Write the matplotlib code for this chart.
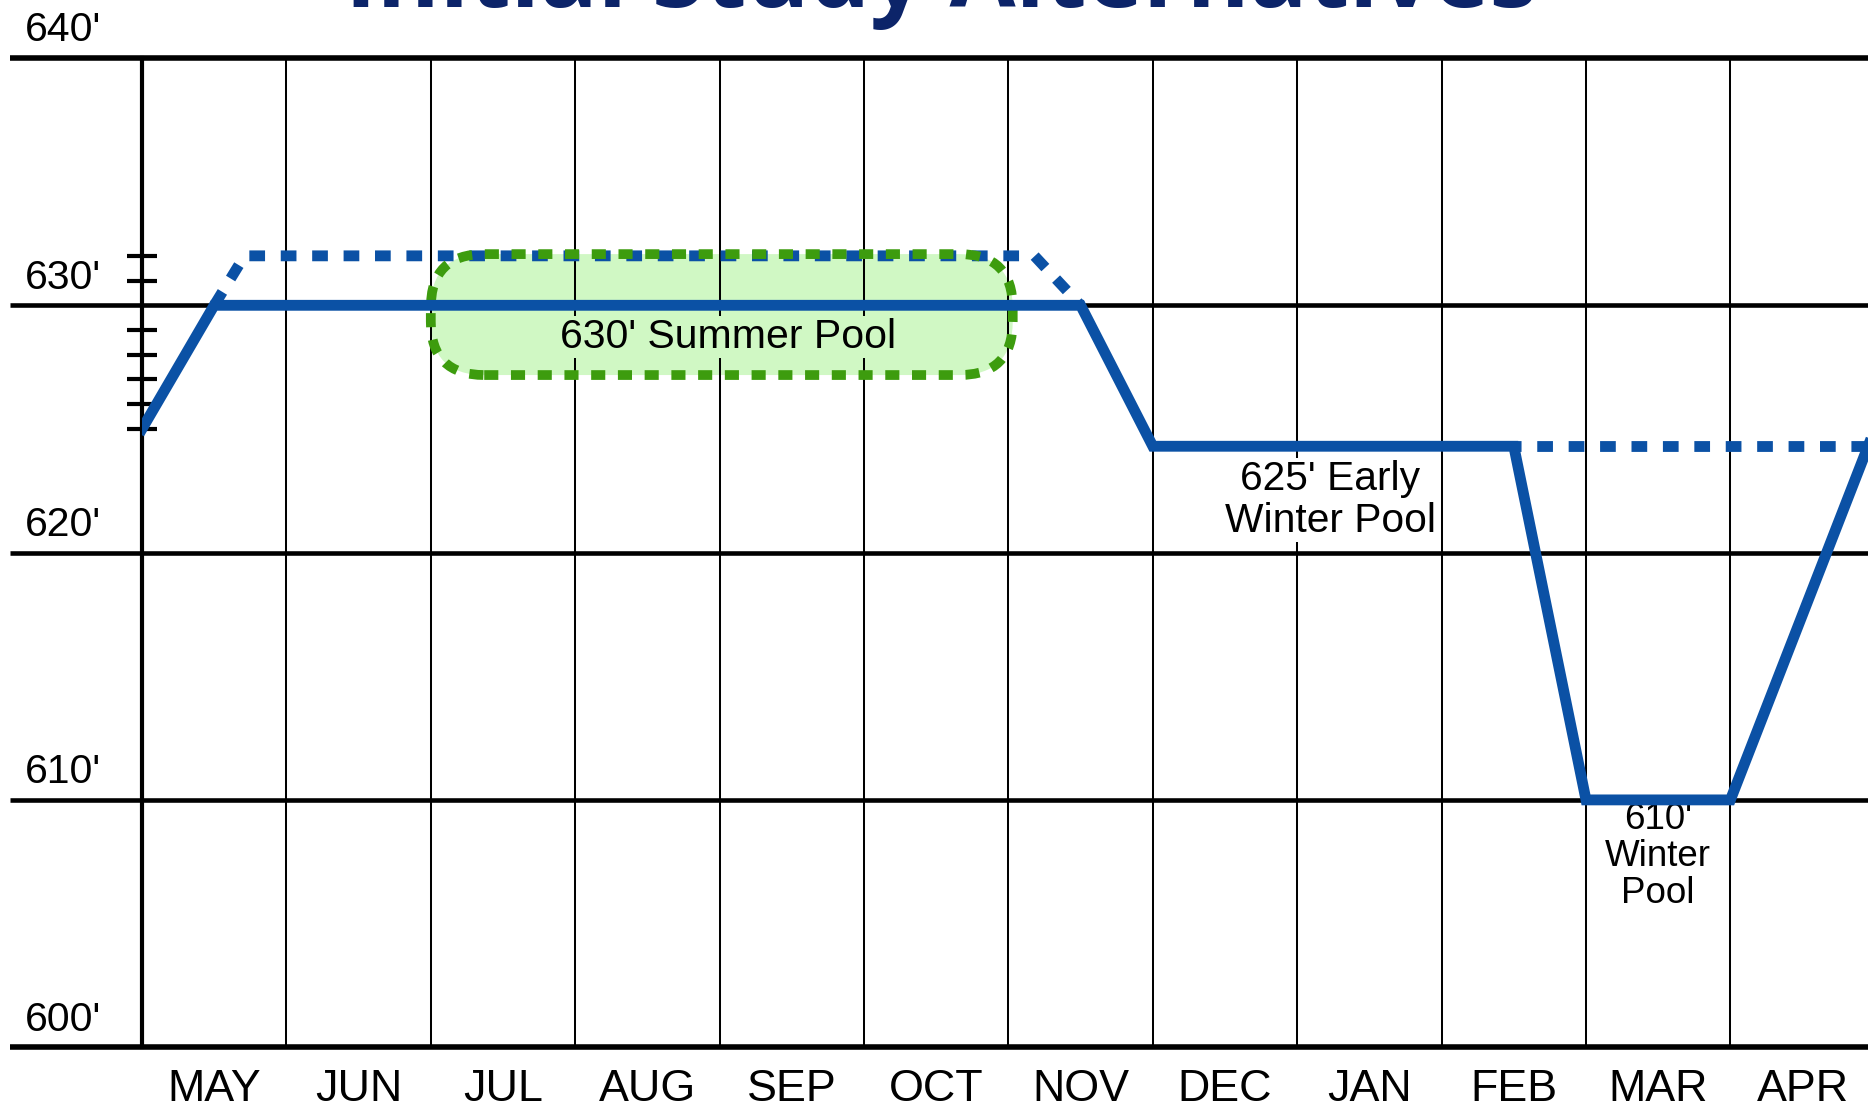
import matplotlib
matplotlib.use("Agg")
import matplotlib.pyplot as plt
from matplotlib.patches import FancyBboxPatch

# ---------------- data ----------------
months = ['MAY', 'JUN', 'JUL', 'AUG', 'SEP', 'OCT', 'NOV', 'DEC', 'JAN', 'FEB', 'MAR', 'APR']
ylevels = [600, 610, 620, 630, 640]
ylabels = ["600'", "610'", "620'", "630'", "640'"]
minor_ticks = [625, 626, 627, 628, 629, 631, 632]

# solid operating curve (month position, elevation)
solid_x = [0.0, 0.5, 6.5, 7.0, 9.5, 10.0, 11.0, 12.0]
solid_y = [625, 630, 630, 624.3, 624.3, 610, 610, 625]

# dotted alternative: higher summer pool
summer_alt_x = [0.5, 0.71, 6.18, 6.5]
summer_alt_y = [630, 632, 632, 630]

# dotted alternative: stay at early winter pool
winter_alt_x = [9.5, 12.0]
winter_alt_y = [624.3, 624.3]

# summer pool band (month start/end, elevation low/high)
band_x = [2.0, 6.03]
band_y = [627.18, 632.07]

BLUE = '#0b51a5'
GREEN_EDGE = '#3d9c0e'
GREEN_FILL = '#d0f8c4'
NAVY = '#0c2469'

W, H = 1868, 1107
fig = plt.figure(figsize=(W / 100, H / 100), dpi=100)
left_px, right_px = 142, W
top_px, bottom_px = 58, 1047.2
ax = fig.add_axes([left_px / W, 1 - bottom_px / H, (right_px - left_px) / W, (bottom_px - top_px) / H])
col_px = 144.4
xmax = (right_px - left_px) / col_px
ax.set_xlim(0, xmax)
ax.set_ylim(600, 640)

for s in ['top', 'right', 'bottom']:
    ax.spines[s].set_visible(False)
ax.spines['left'].set_linewidth(3.0)
ax.spines['left'].set_zorder(4)
ax.set_xticks([])
ax.set_yticks(minor_ticks)
ax.set_yticklabels([])
ax.tick_params(axis='y', direction='inout', length=21, width=3.0, color='black')

# vertical month lines
ax.vlines(range(1, 13), 600, 640, colors='black', lw=1.45, zorder=2)

# horizontal level lines (extend left of axis)
x_left = -(left_px - 10) / col_px
for lv in ylevels:
    lw = 4.0 if lv in (600, 640) else 3.3
    ax.plot([x_left, xmax], [lv, lv], color='black', lw=lw, clip_on=False, zorder=2,
            solid_capstyle='butt')

# level labels
for lv, lab in zip(ylevels, ylabels):
    ax.annotate(lab, xy=(-(left_px - 25) / col_px, lv), xytext=(0, 12), textcoords='offset points',
                ha='left', va='baseline', fontsize=29.5, family='Liberation Sans',
                annotation_clip=False)

# month labels
for i, m in enumerate(months):
    ax.annotate(m, xy=(i + 0.5, 600), xytext=(0, -38.8), textcoords='offset points',
                ha='center', va='baseline', fontsize=32.3, family='Liberation Sans',
                annotation_clip=False)

# summer pool band (rounded, dashed)
ax_w = (right_px - left_px)
ax_h = (bottom_px - top_px)
aspect = (ax_w / xmax) / (ax_h / 40.0)
r = 0.37
box_kw = dict(boxstyle=f"round,pad=0,rounding_size={r}", mutation_aspect=aspect)
fillp = FancyBboxPatch((band_x[0], band_y[0]), band_x[1] - band_x[0], band_y[1] - band_y[0],
                       facecolor=GREEN_FILL, edgecolor='none', zorder=1, **box_kw)
ax.add_patch(fillp)
edgep = FancyBboxPatch((band_x[0], band_y[0]), band_x[1] - band_x[0], band_y[1] - band_y[0],
                       facecolor='none', edgecolor=GREEN_EDGE, lw=7.0, linestyle=(0, (1.45, 1.3)),
                       zorder=5, **box_kw)
ax.add_patch(edgep)

# alternative dotted lines
ax.plot(summer_alt_x, summer_alt_y, color=BLUE, lw=7.8, linestyle=(0, (1.45, 1.45)),
        dash_capstyle='butt', zorder=4)
ax.plot(winter_alt_x, winter_alt_y, color=BLUE, lw=7.8, linestyle=(0.8, (1.45, 1.45)),
        dash_capstyle='butt', zorder=4)

# main curve
ax.plot(solid_x, solid_y, color=BLUE, lw=7.8, solid_joinstyle='miter', zorder=6, clip_on=True)

# annotations
ax.text(4.06, 628.72, "630' Summer Pool", ha='center', va='center', fontsize=29.5,
        family='Liberation Sans', zorder=3,
        bbox=dict(boxstyle='square,pad=0.05', facecolor=GREEN_FILL, edgecolor='none'))
ax.text(8.23, 622.13, "625' Early\nWinter Pool", ha='center', va='center', fontsize=29.3,
        family='Liberation Sans', linespacing=1.12, zorder=3,
        bbox=dict(boxstyle='square,pad=0.05', facecolor='white', edgecolor='none'))
ax.text(10.5, 607.7, "610'\nWinter\nPool", ha='center', va='center', fontsize=26.5,
        family='Liberation Sans', linespacing=1.08, zorder=3,
        bbox=dict(boxstyle='square,pad=0.05', facecolor='white', edgecolor='none'))

# title (cut off at the top edge, as in the source)
fig.text(0.504, 1 - 7 / H, "Initial Study Alternatives", ha='center', va='baseline',
         fontsize=69, family='Open Sans', weight='bold', color=NAVY)

fig.savefig('out.png', dpi=100)
